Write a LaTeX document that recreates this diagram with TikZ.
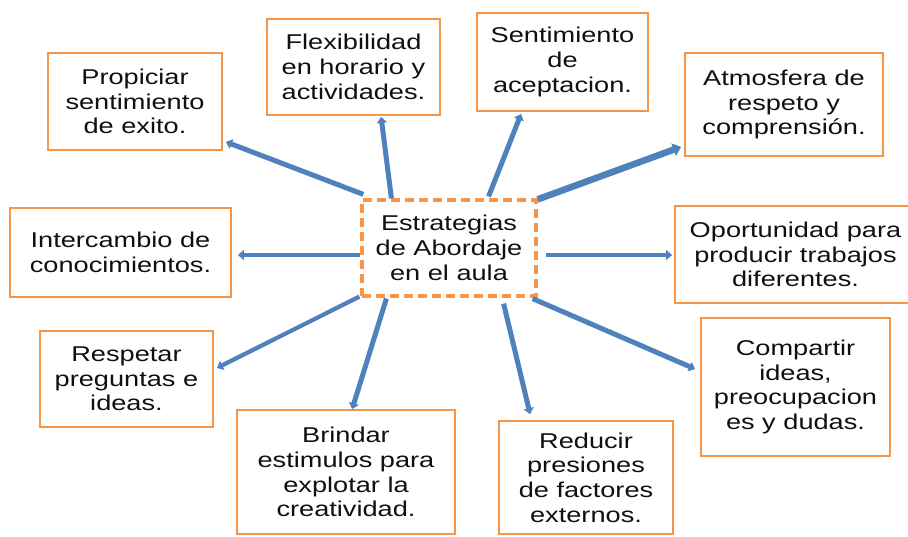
\documentclass[tikz,border=0pt]{standalone}
\usepackage{fontspec}
\setmainfont{Liberation Sans}
\newfontfamily\boxfont[FakeStretch=1.27]{Liberation Sans}
\usetikzlibrary{arrows.meta}
\definecolor{boxorange}{HTML}{F79646}
\definecolor{arrblue}{HTML}{4F81BD}
\definecolor{txt}{HTML}{101010}
\tikzset{
  tbox/.style={draw=boxorange, line width=0.9pt, fill=white, inner sep=0pt, align=center,
    text=txt, font=\boxfont\fontsize{10.7}{12.35}\selectfont},
  cbox/.style={tbox, line width=1.6pt, dash pattern=on 4.5pt off 2.5pt},
  arr/.style={draw=arrblue, line width=2.5pt, -{Triangle[length=3pt,width=5pt]}},
  thinarr/.style={arr, line width=2.1pt},
  thickarr/.style={arr, line width=3.3pt, -{Triangle[length=4pt,width=6.5pt]}}
}
\begin{document}
\begin{tikzpicture}[x=0.5pt,y=-0.5pt]
\useasboundingbox (0,0) rectangle (908,536);
\clip (0,0) rectangle (908,536);
\node[cbox, minimum width=87pt, minimum height=48pt] (c) at (449,248) {Estrategias\\de Abordaje\\en el aula};
\node[tbox, minimum width=87pt, minimum height=48.5pt] (p1) at (135,101.5) {Propiciar\\sentimiento\\de exito.};
\node[tbox, minimum width=86.5pt, minimum height=48pt] (p2) at (353.5,67) {Flexibilidad\\en horario y\\actividades.};
\node[tbox, minimum width=85.5pt, minimum height=49pt] (p3) at (562.5,62) {Sentimiento\\de\\aceptacion.};
\node[tbox, minimum width=99pt, minimum height=51.5pt] (p4) at (784,104.5) {Atmosfera de\\respeto y\\comprensión.};
\node[tbox, minimum width=110.5pt, minimum height=44.5pt] (p5) at (120.5,252.5) {Intercambio de\\conocimientos.};
\node[tbox, minimum width=120.5pt, minimum height=48.5pt] (p6) at (795.5,254.5) {Oportunidad para\\producir trabajos\\diferentes.};
\node[tbox, minimum width=86.5pt, minimum height=48pt] (p7) at (126.5,379) {Respetar\\preguntas e\\ideas.};
\node[tbox, minimum width=109pt, minimum height=62pt] (p8) at (346,472) {Brindar\\estimulos para\\explotar la\\creatividad.};
\node[tbox, minimum width=87pt, minimum height=56.5pt] (p9) at (586,477.5) {Reducir\\presiones\\de factores\\externos.};
\node[tbox, minimum width=94.5pt, minimum height=69pt] (p10) at (795.5,387) {Compartir\\ideas,\\preocupacion\\es y dudas.};

\draw[arr] ([shift={(3,-4)}]c.north west) -- ([shift={(3,-9)}]p1.south east);
\draw[arr] ([shift={(31,0)}]c.north west) -- ([shift={(115,1)}]p2.south west);
\draw[arr] ([shift={(-49,-2)}]c.north east) -- ([shift={(45,2)}]p3.south west);
\draw[thickarr] ([shift={(0,1)}]c.north east) -- ([shift={(-3,-10)}]p4.south west);
\draw[thinarr] ([shift={(0,7)}]c.west) -- ([shift={(6,2.5)}]p5.east);
\draw[thinarr] ([shift={(8,7)}]c.east) -- ([shift={(-2,0.5)}]p6.west);
\draw[thinarr] ([shift={(-1,-1)}]c.south west) -- ([shift={(3,-11)}]p7.east);
\draw[arr] ([shift={(26,1)}]c.south west) -- ([shift={(116,0)}]p8.north west);
\draw[arr] ([shift={(-34,6)}]c.south east) -- ([shift={(32,-6)}]p9.north west);
\draw[arr] ([shift={(-5,1)}]c.south east) -- ([shift={(-5,-18)}]p10.west);
\end{tikzpicture}
\end{document}
